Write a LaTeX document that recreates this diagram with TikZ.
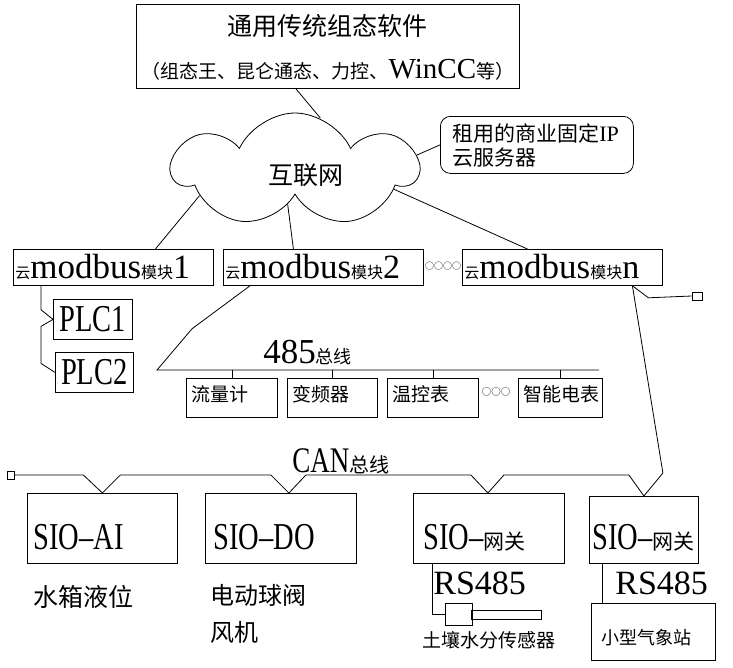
\documentclass[tikz,border=0pt]{standalone}
\usepackage{fontspec}
\setmainfont{Liberation Serif}
\newfontfamily\cjk{Noto Sans CJK SC}
\newfontfamily\narrowfont{Liberation Serif}[FakeStretch=0.75]
\usetikzlibrary{shapes.symbols,calc}
\newcommand\fsz[1]{\fontsize{#1}{#1}\selectfont}
\newcommand\modlabel[1]{{\cjk\fsz{15}云}{\fsz{35}modbus}{\cjk\fsz{16}模块}{\fsz{34}#1}}

\begin{document}
\begin{tikzpicture}[
  x=1pt, y=-1pt,
  line width=0.8pt,
  box/.style={rectangle, draw, line width=0.8pt, inner sep=0pt, anchor=north west},
  lbl/.style={inner sep=0pt, anchor=west},
  term/.style={rectangle, draw, line width=0.8pt, inner sep=0pt},
]
\useasboundingbox (0,0) rectangle (733,667);

% Top box — configuration software
\node[box, minimum width=383pt, minimum height=84pt] (soft) at (136,4) {};
\node[inner sep=0pt] (softtitle) at ($(soft.north)+(0,22)$) {\cjk\fsz{25}通用传统组态软件};
\node[inner sep=0pt] (softlist) at ($(soft.north)+(0,66)$)
      {{\cjk\fsz{19}（组态王、昆仑通态、力控、}{\fsz{29}WinCC}{\cjk\fsz{19}等）}};

% Cloud — internet
\node[cloud, draw, line width=0.8pt, cloud puffs=7, cloud puff arc=130, aspect=2.1,
      minimum width=244pt, minimum height=114pt, inner sep=0pt] (cloud) at (295,170) {};
\node[inner sep=0pt] (cloudtext) at ($(cloud.center)+(11,5)$) {\cjk\fsz{25}互联网};

% Callout — rented server
\node[box, rounded corners=10pt, minimum width=193pt, minimum height=57pt] (callout) at (440,116) {};
\node[lbl] at ($(callout.north west)+(12,17)$) {{\cjk\fsz{21}租用的商业固定}{\fsz{22}IP}};
\node[lbl] at ($(callout.north west)+(12,42)$) {\cjk\fsz{21}云服务器};

% Cloud modbus modules
\node[box, minimum width=200pt, minimum height=36pt] (mod1) at (13,249) {};
\node[lbl] at ($(mod1.west)+(2,0)$) {\modlabel{1}};
\node[box, minimum width=200pt, minimum height=36pt] (mod2) at (223,249) {};
\node[lbl] at ($(mod2.west)+(2,0)$) {\modlabel{2}};
\node[box, minimum width=200pt, minimum height=36pt] (modn) at (462,249) {};
\node[lbl] at ($(modn.west)+(2,0)$) {\modlabel{n}};
\node[inner sep=0pt] (moddots) at (443,266) {\cjk\fsz{9}○○○○};

% PLCs
\node[box, minimum width=79pt, minimum height=40pt] (plc1) at (53,299) {\narrowfont\fsz{38}PLC1};
\node[box, minimum width=78pt, minimum height=40pt] (plc2) at (55,352) {\narrowfont\fsz{38}PLC2};

% 485 bus and devices
\coordinate (busL) at (157,370);
\coordinate (busR) at (599,370);
\node[lbl, anchor=base west] (buslabel) at (263,363) {{\fsz{35}485}{\cjk\fsz{18}总线}};
\node[box, minimum width=91pt, minimum height=39pt] (flow) at (186,378) {};
\node[lbl] at ($(flow.west)+(5,-4)$) {\cjk\fsz{19}流量计};
\node[box, minimum width=90pt, minimum height=39pt] (vfd) at (287,378) {};
\node[lbl] at ($(vfd.west)+(5,-4)$) {\cjk\fsz{19}变频器};
\node[box, minimum width=91pt, minimum height=39pt] (temp) at (387,378) {};
\node[lbl] at ($(temp.west)+(5,-4)$) {\cjk\fsz{19}温控表};
\node[inner sep=0pt] (devdots) at (496,392) {\cjk\fsz{9.5}○○○};
\node[box, minimum width=84pt, minimum height=39pt] (meter) at (518,378) {};
\node[lbl] at ($(meter.west)+(5,-4)$) {\cjk\fsz{19}智能电表};

% CAN bus terminators and label
\node[term, minimum width=10pt, minimum height=8pt] (termA) at (697,296) {};
\node[term, minimum width=7pt, minimum height=8pt] (termB) at (10.5,475) {};
\node[lbl, anchor=base west] (canlabel) at (292,472) {{\narrowfont\fsz{36}CAN}{\cjk\fsz{20}总线}};

% SIO modules
\node[box, minimum width=150pt, minimum height=70pt] (ai) at (27,493) {};
\node[lbl, anchor=base west] at ($(ai.south west)+(6,-14)$) {\narrowfont\fsz{38}SIO–AI};
\node[box, minimum width=151pt, minimum height=70pt] (do) at (205,493) {};
\node[lbl, anchor=base west] at ($(do.south west)+(8,-14)$) {\narrowfont\fsz{38}SIO–DO};
\node[box, minimum width=151pt, minimum height=70pt] (gw1) at (413,493) {};
\node[lbl, anchor=base west] at ($(gw1.south west)+(10,-14)$) {{\narrowfont\fsz{38}SIO–}{\cjk\fsz{21}网关}};
\node[box, minimum width=109pt, minimum height=67pt] (gw2) at (589,496) {};
\node[lbl, anchor=base west] at ($(gw2.south west)+(3,-14)$) {{\narrowfont\fsz{38}SIO–}{\cjk\fsz{21}网关}};

% Field devices
\node[lbl] at (33,597) {\cjk\fsz{25}水箱液位};
\node[lbl] at (210,595) {\cjk\fsz{24}电动球阀};
\node[lbl] at (210,632) {\cjk\fsz{24}风机};
\node[lbl] at (433,583) {\fsz{34}RS485};
\node[lbl] at (615,583) {\fsz{34}RS485};
\node[box, minimum width=27pt, minimum height=22pt] (probe) at (445,603) {};
\node[box, minimum width=70pt, minimum height=9pt] (probebar) at (471,610) {};
\node[inner sep=0pt] at (489,640) {\cjk\fsz{19}土壤水分传感器};
\node[box, minimum width=124pt, minimum height=57pt] (weather) at (591,603) {};
\node[inner sep=0pt] at (646,638) {\cjk\fsz{18}小型气象站};

% Connectors
\draw ($(soft.south)+(-32,0)$) -- (cloud.64);
\draw (cloud.7) -- (callout.west);
\draw (cloud.195) -- ($(mod1.north)+(42,0)$);
\draw (cloud.258) -- ($(mod2.north)+(-30,0)$);
\draw (cloud.349) -- ($(modn.north)+(-35,0)$);
\draw ($(mod1.south west)+(28,0)$) -- ++(0,24) -- (plc1.west) -- ++(-12,7) -- ++(0,37) -- (plc2.west);
\draw ($(mod2.south west)+(27,0)$) -- ++(-58,43) -- (busL) -- (busR);
\foreach \dev in {flow,vfd,temp,meter}
  \draw (\dev.north) -- (\dev.north |- busL);
\draw ($(modn.south)+(70,0)$) -- ++(16,12) -- (termA.west);
\draw (termB.east) -- ($(ai.north)+(-19,-18)$) -- (ai.north) -- ($(ai.north)+(18,-18)$)
  -- ($(do.north)+(-10,-18)$) -- ($(do.north)+(8,0)$) -- ($(do.north)+(25,-18)$)
  -- ($(gw1.north)+(-18,-18)$) -- ($(gw1.north)+(-1,0)$) -- ($(gw1.north)+(15,-18)$)
  -- ($(gw2.north)+(-15,-21)$) -- (gw2.north) -- ($(gw2.north)+(19,-23)$)
  -- ($(modn.south)+(70,0)$);
\draw ($(gw1.south west)+(19,0)$) |- (probe.west);
\draw ($(gw2.south west)+(13,0)$) -- ($(weather.north west)+(11,0)$);
\end{tikzpicture}
\end{document}
